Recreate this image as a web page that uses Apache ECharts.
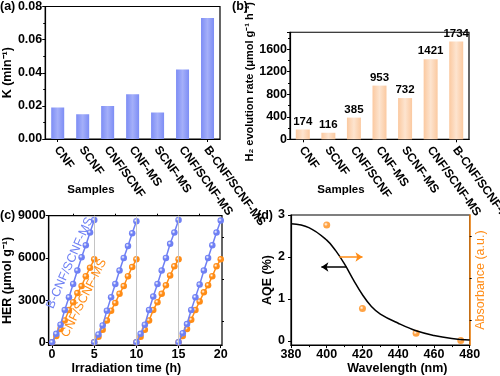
<!DOCTYPE html>
<html>
<head>
<meta charset="utf-8">
<script src="https://cdn.jsdelivr.net/npm/echarts@6/dist/echarts.min.js"></script>
<style>
  html, body { margin: 0; padding: 0; background: #fff; }
  #chart { width: 500px; height: 376px; }
</style>
</head>
<body>
<div id="chart"></div>
<script>
// (a) and (b): per-sample values
const samples = ['CNF', 'SCNF', 'CNF/SCNF', 'CNF-MS', 'SCNF-MS', 'CNF/SCNF-MS', 'B-CNF/SCNF-MS'];
const kValues = [0.019, 0.015, 0.020, 0.027, 0.016, 0.042, 0.073];
const h2Rates = [174, 116, 385, 953, 732, 1421, 1734];

// (c): four 5 h cycles
const cycleHours = [0, 0.5, 1, 1.5, 2, 2.5, 3, 3.5, 4, 4.5, 5];
const cycleStarts = [0, 5, 10, 15];
const herBlue = [
  [0, 600, 1250, 2300, 3200, 4150, 5100, 6050, 6900, 7800, 8700],
  [0, 550, 1200, 2250, 3200, 4150, 5100, 6000, 6850, 7750, 8600],
  [0, 600, 1250, 2300, 3250, 4150, 5100, 6000, 7000, 7800, 8700],
  [0, 650, 1300, 2300, 3200, 4100, 5100, 6000, 6900, 7800, 8650]
];
const herOrange = [
  [0, 450, 950, 1550, 2300, 2850, 3500, 4000, 4700, 5300, 5900],
  [0, 400, 900, 1550, 2250, 2800, 3450, 4000, 4700, 5350, 5900],
  [0, 400, 900, 1550, 2300, 2850, 3450, 4050, 4750, 5400, 5900],
  [0, 450, 950, 1600, 2300, 2900, 3550, 4050, 4700, 5400, 5900]
];
const cycleBreaks = [5, 10, 15];

// (d): AQE curve and points
const wavelengths = [380, 390, 400, 405, 410, 415, 420, 425, 430, 440, 450, 460, 470, 480];
const aqeCurve = [2.79, 2.70, 2.40, 2.15, 1.83, 1.45, 1.10, 0.82, 0.64, 0.42, 0.24, 0.13, 0.06, 0.02];
const dotWavelengths = [400, 420, 450, 475];
const dotValues = [2.76, 0.77, 0.18, 0.01];
const rightArrow = [[407, 2.0], [420, 2.0]];
const leftArrow = [[411, 1.76], [397, 1.76]];

const FONT = '"Liberation Sans", Arial, sans-serif';
const BLUE = '#6f80f4';
const ORANGE = '#ff8c16';

function merge(a, b) {
  const out = Object.assign({}, a);
  for (const k in b) {
    if (b[k] && typeof b[k] === 'object' && !Array.isArray(b[k]) && a[k] && typeof a[k] === 'object') {
      out[k] = merge(a[k], b[k]);
    } else {
      out[k] = b[k];
    }
  }
  return out;
}

const plain = (v) => String(v);

const baseAxis = {
  axisLine: { show: true, onZero: false, lineStyle: { color: '#000', width: 1.2 } },
  axisTick: { show: true, inside: false, length: 3, lineStyle: { color: '#000', width: 1 } },
  minorTick: { show: false, length: 2, lineStyle: { color: '#000', width: 1 } },
  axisLabel: { color: '#000', fontFamily: FONT, fontWeight: 'bold', fontSize: 12.5, margin: 3, formatter: plain },
  splitLine: { show: false },
  nameLocation: 'middle',
  nameTextStyle: { color: '#000', fontFamily: FONT, fontWeight: 'bold', fontSize: 12.5 }
};
const ax = (extra) => merge(baseAxis, extra);
const hiddenTicks = (extra) => merge(baseAxis, merge({
  axisLine: { show: false },
  axisLabel: { show: false },
  axisTick: { length: 2 }
}, extra));

const gridBox = { show: true, borderColor: '#000', borderWidth: 1.2, backgroundColor: 'transparent' };

const barBlue = new echarts.graphic.LinearGradient(0, 0, 1, 0, [
  { offset: 0, color: '#7d8df5' }, { offset: 0.5, color: '#a4aff9' }, { offset: 1, color: '#7d8df5' }
]);
const barPeach = new echarts.graphic.LinearGradient(0, 0, 1, 0, [
  { offset: 0, color: '#fbc9a0' }, { offset: 0.5, color: '#fde4cf' }, { offset: 1, color: '#fbc9a0' }
]);
const ball = (c) => new echarts.graphic.RadialGradient(0.38, 0.38, 0.62, [
  { offset: 0, color: '#ffffff' }, { offset: 0.45, color: c }, { offset: 1, color: c }
]);

const series = [
  {
    type: 'bar', xAxisIndex: 0, yAxisIndex: 0, data: kValues, barWidth: 13,
    itemStyle: { color: barBlue }
  },
  {
    type: 'bar', xAxisIndex: 1, yAxisIndex: 1, data: h2Rates, barWidth: 14,
    itemStyle: { color: barPeach },
    label: { show: true, position: 'top', distance: 2, color: '#000', fontFamily: FONT, fontWeight: 'bold', fontSize: 11.5 }
  }
];

// (c) orange first so blue sits on top
[[herOrange, ORANGE], [herBlue, BLUE]].forEach(([sets, color]) => {
  sets.forEach((vals, k) => {
    series.push({
      type: 'line', xAxisIndex: 2, yAxisIndex: 2,
      data: cycleHours.map((h, i) => [cycleStarts[k] + h, vals[i]]),
      symbol: 'circle', symbolSize: 6.5,
      itemStyle: { color: ball(color) },
      lineStyle: { color: color, width: 1.5 },
      z: color === BLUE ? 4 : 3
    });
  });
});
series[2].markLine = {
  silent: true, symbol: 'none', label: { show: false },
  lineStyle: { color: '#c4c4c4', width: 1, type: 'solid' },
  data: cycleBreaks.map((x) => ({ xAxis: x }))
};

series.push({
  type: 'line', xAxisIndex: 3, yAxisIndex: 3,
  data: wavelengths.map((w, i) => [w, aqeCurve[i]]),
  smooth: 0.4, showSymbol: false,
  lineStyle: { color: '#000', width: 1.5 },
  markLine: {
    silent: true, symbol: ['none', 'arrow'], symbolSize: 7, label: { show: false },
    lineStyle: { color: '#000', width: 1.5, type: 'solid' },
    data: [[{ coord: leftArrow[0] }, { coord: leftArrow[1] }]]
  }
});
series.push({
  type: 'scatter', xAxisIndex: 3, yAxisIndex: 3,
  data: dotWavelengths.map((w, i) => [w, dotValues[i]]),
  symbolSize: 7,
  itemStyle: { color: ball(ORANGE) },
  markLine: {
    silent: true, symbol: ['none', 'arrow'], symbolSize: 7, label: { show: false },
    lineStyle: { color: ORANGE, width: 1.5, type: 'solid' },
    data: [[{ coord: rightArrow[0] }, { coord: rightArrow[1] }]]
  }
});

const txt = (text, x, y, opt) => ({
  type: 'text', x: x, y: y, rotation: (opt && opt.rot) || 0, z: 100,
  style: {
    text: text, fill: (opt && opt.fill) || '#000',
    font: (opt && opt.font) || 'bold 12.5px ' + FONT,
    align: (opt && opt.align) || 'left', verticalAlign: 'middle',
    textAlign: (opt && opt.align) || 'left', textVerticalAlign: 'middle'
  }
});

const option = {
  animation: false,
  backgroundColor: '#fff',
  textStyle: { fontFamily: FONT },
  grid: [
    merge(gridBox, { left: 44.7, top: 6, width: 175.3, height: 133 }),
    merge(gridBox, { left: 290, top: 6, width: 179, height: 133.3 }),
    merge(gridBox, { left: 45.7, top: 215.7, width: 176.3, height: 133.3 }),
    merge(gridBox, { left: 291, top: 215, width: 178.7, height: 133.3 })
  ],
  xAxis: [
    ax({ type: 'category', gridIndex: 0, data: samples, axisTick: { alignWithLabel: true }, axisLabel: { show: false } }),
    ax({ type: 'category', gridIndex: 1, data: samples, axisTick: { alignWithLabel: true }, axisLabel: { show: false } }),
    ax({
      type: 'value', gridIndex: 2, min: -0.4, max: 20.15,
      axisTick: { customValues: [0, 5, 10, 15, 20] },
      axisLabel: { customValues: [0, 5, 10, 15, 20] },
      name: 'Irradiation time (h)', nameGap: 14,
      nameTextStyle: { padding: [0, 18, 0, 0] }
    }),
    ax({
      type: 'value', gridIndex: 3, min: 380, max: 480, interval: 20,
      minorTick: { show: true, splitNumber: 2 },
      name: 'Wavelength (nm)', nameGap: 14,
      nameTextStyle: { padding: [0, 0, 0, 34] }
    }),
    hiddenTicks({ type: 'value', gridIndex: 2, min: -0.4, max: 20.15, axisTick: { customValues: [2.5, 7.5, 12.5, 17.5] } })
  ],
  yAxis: [
    ax({
      type: 'value', gridIndex: 0, min: 0, max: 0.08, interval: 0.02,
      minorTick: { show: true, splitNumber: 2 },
      axisLabel: { formatter: (v) => v.toFixed(2) },
      name: 'K (min⁻¹)', nameGap: 25
    }),
    ax({
      type: 'value', gridIndex: 1, min: 0, max: 1900, interval: 400,
      minorTick: { show: true, splitNumber: 2 },
      axisLabel: { showMaxLabel: false },
      name: 'H₂ evolution rate (μmol g⁻¹ h⁻¹)', nameGap: 27,
      nameTextStyle: { fontSize: 11, padding: [0, 0, 0, 8] }
    }),
    ax({
      type: 'value', gridIndex: 2, min: -200, max: 9000,
      axisTick: { customValues: [0, 3000, 6000, 9000] },
      axisLabel: { customValues: [0, 3000, 6000, 9000] },
      name: 'HER (μmol g⁻¹)', nameGap: 30
    }),
    ax({
      type: 'value', gridIndex: 3, min: -0.1, max: 3,
      axisTick: { customValues: [0, 1, 2, 3] },
      axisLabel: { customValues: [0, 1, 2, 3], margin: 6 },
      name: 'AQE (%)', nameGap: 13
    }),
    ax({
      type: 'value', gridIndex: 3, position: 'right', min: 0, max: 1,
      axisLine: { lineStyle: { color: ORANGE, width: 1.5 } },
      axisTick: { show: false }, axisLabel: { show: false },
      name: 'Absorbance (a.u.)', nameRotate: 90, nameGap: 4,
      nameTextStyle: { color: ORANGE, fontWeight: 'normal', fontSize: 12.5 }
    }),
    hiddenTicks({ type: 'value', gridIndex: 2, min: -200, max: 9000, axisTick: { customValues: [1500, 4500, 7500] } }),
    hiddenTicks({ type: 'value', gridIndex: 3, min: -0.1, max: 3, axisTick: { customValues: [0.5, 1.5, 2.5] } })
  ],
  series: series
};

const chart = echarts.init(document.getElementById('chart'));
chart.setOption(option);

// slanted sample names, anchored at each category tick of the two bar axes
const labelTexts = [];
[0, 1].forEach((axisIdx) => {
  const baseY = chart.convertToPixel({ yAxisIndex: axisIdx }, 0) + 8.5;
  samples.forEach((name) => {
    const x = chart.convertToPixel({ xAxisIndex: axisIdx }, name);
    labelTexts.push(txt(name, x - 1, baseY, { rot: -54 * Math.PI / 180, font: 'bold 12px ' + FONT }));
  });
});

chart.setOption({
  graphic: labelTexts.concat([
    txt('(a)', 0, 7),
    txt('(b)', 232, 7),
    txt('(c)', 0, 215.7),
    txt('(d)', 257, 215.7),
    txt('Samples', 91, 190, { align: 'center', font: 'bold 11.5px ' + FONT }),
    txt('Samples', 341, 190, { align: 'center', font: 'bold 11.5px ' + FONT }),
    txt('B-CNF/SCNF-MS', 70, 263, { align: 'center', rot: 66 * Math.PI / 180, fill: BLUE, font: '12.5px ' + FONT }),
    txt('CNF/SCNF-MS', 84, 298, { align: 'center', rot: 63 * Math.PI / 180, fill: ORANGE, font: '12.5px ' + FONT })
  ])
});
</script>
</body>
</html>
